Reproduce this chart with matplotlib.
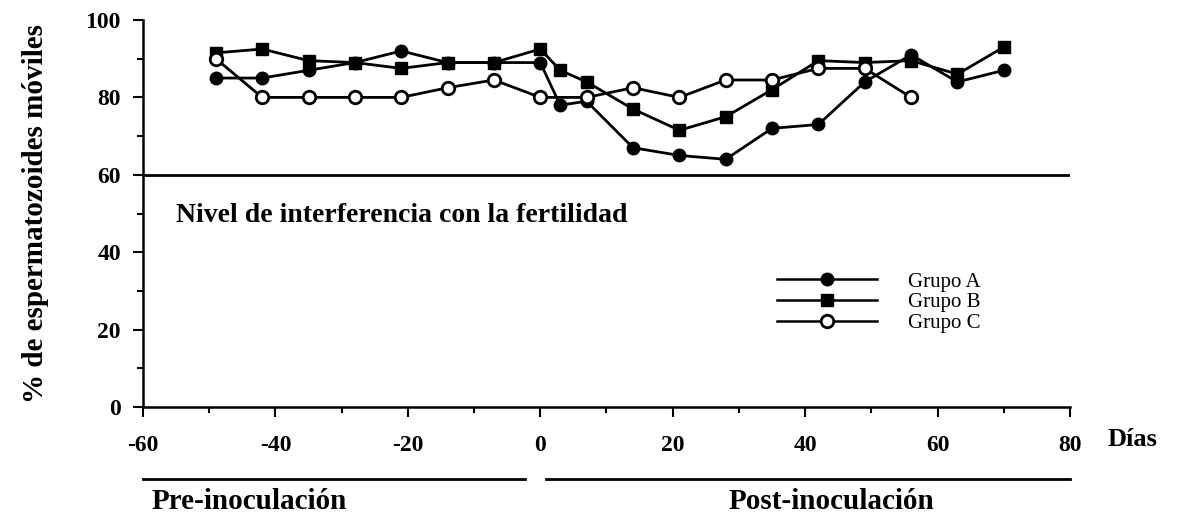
import matplotlib
matplotlib.use("Agg")
import matplotlib.pyplot as plt
from matplotlib.lines import Line2D
from matplotlib.ticker import MultipleLocator
import matplotlib.transforms as mtransforms

plt.rcParams['font.family'] = ['Liberation Serif', 'DejaVu Serif']
plt.rcParams['axes.unicode_minus'] = False

# ---- data ----
days_A = [-49, -42, -35, -28, -21, -14, -7, 0, 3, 7, 14, 21, 28, 35, 42, 49, 56, 63, 70]
grupo_A = [85, 85, 87, 89, 92, 89, 89, 89, 78, 79, 67, 65, 64, 72, 73, 84, 91, 84, 87]

days_B = [-49, -42, -35, -28, -21, -14, -7, 0, 3, 7, 14, 21, 28, 35, 42, 49, 56, 63, 70]
grupo_B = [91.5, 92.5, 89.5, 89, 87.5, 89, 89, 92.5, 87, 84, 77, 71.5, 75, 82, 89.5, 89, 89.5, 86, 93]

days_C = [-49, -42, -35, -28, -21, -14, -7, 0, 7, 14, 21, 28, 35, 42, 49, 56]
grupo_C = [90, 80, 80, 80, 80, 82.5, 84.5, 80, 80, 82.5, 80, 84.5, 84.5, 87.5, 87.5, 80]

series_labels = ['Grupo A', 'Grupo B', 'Grupo C']
x_ticks = [-60, -40, -20, 0, 20, 40, 60, 80]
y_ticks = [0, 20, 40, 60, 80, 100]
threshold = 60

# ---- figure ----
fig = plt.figure(figsize=(11.88, 5.2), dpi=100)
ax = fig.add_axes([143/1188, (520-407)/520, (1070-143)/1188, (407-20)/520])

lw = 2.0
ax.plot(days_A, grupo_A, color='black', lw=lw, marker='o', ms=9,
        mfc='black', mec='black', zorder=3)
ax.plot(days_B, grupo_B, color='black', lw=lw, marker='s', ms=9,
        mfc='black', mec='black', zorder=3)
ax.plot(days_C, grupo_C, color='black', lw=lw, marker='o', ms=9,
        mfc='white', mec='black', mew=2, zorder=4)

ax.axhline(threshold, color='black', lw=2, zorder=2)
ax.text(-55, 49.5, 'Nivel de interferencia con la fertilidad',
        fontsize=20, fontweight='bold', ha='left', va='center')

ax.set_xlim(-60, 80)
ax.set_ylim(0, 100)
for s in ['top', 'right']:
    ax.spines[s].set_visible(False)
for s in ['left', 'bottom']:
    ax.spines[s].set_linewidth(1.8)

ax.set_xticks(x_ticks)
ax.set_yticks(y_ticks)
ax.xaxis.set_minor_locator(MultipleLocator(10))
ax.yaxis.set_minor_locator(MultipleLocator(10))
ax.tick_params(axis='both', which='major', length=7, width=1.5, direction='out')
ax.tick_params(axis='both', which='minor', length=4, width=1.5, direction='out')
ax.tick_params(axis='x', pad=13)
ax.tick_params(axis='y', pad=9)
for lab in ax.get_xticklabels() + ax.get_yticklabels():
    lab.set_fontsize(17)
    lab.set_fontweight('bold')

ax.set_ylabel('% de espermatozoides móviles', fontsize=21, fontweight='bold',
              labelpad=26)

# Días label
ax.text(1.04, -0.085, 'Días', transform=ax.transAxes, fontsize=19,
        fontweight='bold', ha='left', va='center')

# legend
handles = [
    Line2D([], [], color='black', lw=1.8, marker='o', ms=9, mfc='black', mec='black'),
    Line2D([], [], color='black', lw=1.8, marker='s', ms=9, mfc='black', mec='black'),
    Line2D([], [], color='black', lw=1.8, marker='o', ms=9, mfc='white', mec='black', mew=2),
]
ax.legend(handles, series_labels, loc='upper left', bbox_to_anchor=(0.675, 0.37),
          frameon=False, fontsize=15, handlelength=4.8, handletextpad=1.5,
          labelspacing=0.05, borderaxespad=0)

# pre/post inoculation bars
trans = mtransforms.blended_transform_factory(ax.transData, ax.transAxes)
ax.plot([-60, -2.3], [-0.185, -0.185], color='black', lw=2, transform=trans, clip_on=False)
ax.plot([0.8, 80], [-0.185, -0.185], color='black', lw=2, transform=trans, clip_on=False)
ax.text(-44, -0.245, 'Pre-inoculación', transform=trans, fontsize=21,
        fontweight='bold', ha='center', va='center')
ax.text(44, -0.245, 'Post-inoculación', transform=trans, fontsize=21,
        fontweight='bold', ha='center', va='center')

fig.savefig('out.png', dpi=100)
